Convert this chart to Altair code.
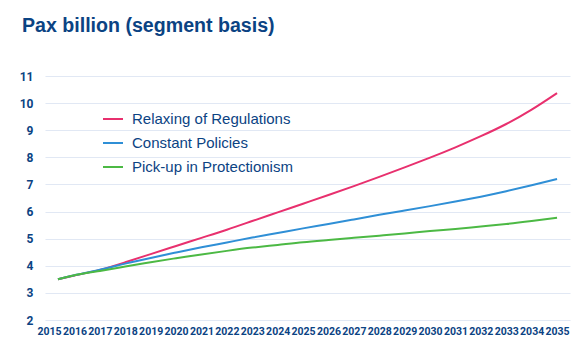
import altair as alt
import pandas as pd

years = [2015.35] + list(range(2016, 2036))
relaxing = [3.5, 3.64, 3.85, 4.13, 4.43, 4.73, 5.03, 5.33, 5.65, 5.97, 6.29,
            6.61, 6.94, 7.28, 7.63, 7.99, 8.37, 8.78, 9.23, 9.76, 10.37]
constant = [3.5, 3.65, 3.85, 4.08, 4.29, 4.49, 4.68, 4.86, 5.04, 5.21, 5.38,
            5.54, 5.71, 5.88, 6.04, 6.2, 6.37, 6.55, 6.75, 6.97, 7.2]
protection = [3.5, 3.65, 3.81, 3.97, 4.13, 4.28, 4.42, 4.55, 4.67, 4.77, 4.87,
              4.95, 5.03, 5.11, 5.19, 5.28, 5.36, 5.45, 5.54, 5.65, 5.77]
series_names = ["Relaxing of Regulations", "Constant Policies", "Pick-up in Protectionism"]
series_colors = ["#e8306e", "#2f8fd6", "#4cb944"]
tick_years = list(range(2015, 2036))
title_text = "Pax billion (segment basis)"

rows = []
for name, vals in zip(series_names, [relaxing, constant, protection]):
    for y, v in zip(years, vals):
        rows.append({"year": y, "value": v, "series": name})
df = pd.DataFrame(rows)

dark = "#0b4383"
tick_font = "Roboto"

lines = alt.Chart(df).mark_line(strokeWidth=2, interpolate="natural").encode(
    x=alt.X("year:Q",
            scale=alt.Scale(domain=[2014.84, 2035.51], nice=False, zero=False),
            axis=alt.Axis(values=tick_years, format="d", title=None, grid=False,
                          ticks=False, domain=False, labelPadding=6,
                          labelFont=tick_font, labelFontWeight="bold",
                          labelFontSize=10.5, labelColor=dark, labelFlush=False,
                          labelOverlap=False)),
    y=alt.Y("value:Q",
            scale=alt.Scale(domain=[2, 11], nice=False, zero=False),
            axis=alt.Axis(values=list(range(2, 12)), title=None, grid=True,
                          gridColor="#e1e8f4", gridWidth=1.2, ticks=False, domain=False,
                          labelPadding=12, labelFont=tick_font,
                          labelFontWeight="bold", labelFontSize=12, labelColor=dark)),
    color=alt.Color("series:N",
                    scale=alt.Scale(domain=series_names, range=series_colors),
                    sort=series_names,
                    legend=alt.Legend(orient="none", legendX=57, legendY=32, title=None,
                                      symbolType="stroke", symbolSize=400,
                                      symbolStrokeWidth=2, labelFont="Liberation Sans",
                                      labelFontSize=15, labelColor=dark, labelOffset=8,
                                      rowPadding=5, labelLimit=400)),
)

title = alt.Chart(pd.DataFrame({"t": [title_text]})).mark_text(
    align="left", baseline="alphabetic", font="Liberation Sans", fontWeight="bold",
    fontSize=19.6, color=dark
).encode(x=alt.value(-23), y=alt.value(-44), text="t:N")

chart = alt.layer(lines, title).properties(
    width=525, height=244,
    autosize=alt.AutoSizeParams(type="none"),
    padding={"left": 45, "top": 76, "right": 13, "bottom": 35},
).configure_view(stroke=None)

chart.save("out.html", embed_options={"renderer": "svg", "actions": False})
